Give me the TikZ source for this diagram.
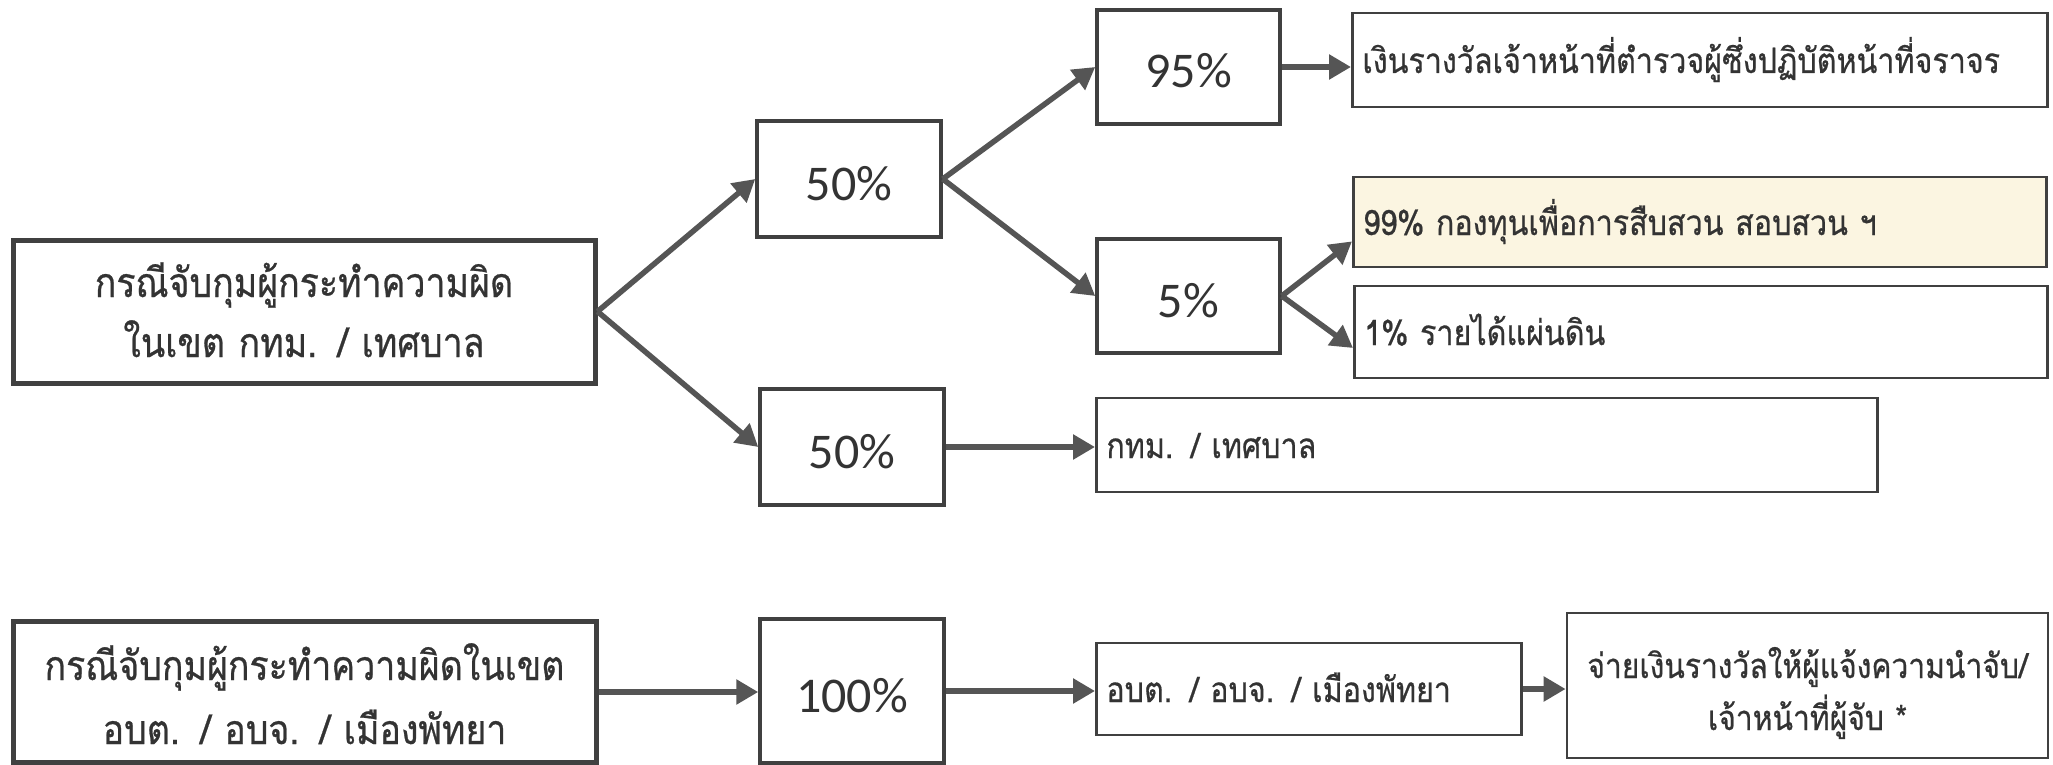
\documentclass[tikz,border=0pt]{standalone}
\usepackage{fontspec}
\newfontfamily\thaifont[Script=Thai,FakeStretch=0.87,FakeBold=0.6]{Loma}
\newfontfamily\pctfont{Carlito}
\usetikzlibrary{arrows.meta,calc}
\definecolor{boxcol}{HTML}{404040}
\definecolor{arrcol}{HTML}{555555}
\definecolor{txtcol}{HTML}{333333}
\definecolor{creamfill}{HTML}{FBF5E1}
\begin{document}
\begin{tikzpicture}[x=1pt,y=-1pt,
  pbox/.style={draw=boxcol, line width=3.5pt, text=txtcol, inner sep=0pt,
    text height=42pt, text depth=0pt,
    font=\pctfont\fontsize{50pt}{56pt}\selectfont},
  tbox/.style={draw=boxcol, line width=2.8pt, text=txtcol, inner xsep=10pt, inner ysep=0pt,
    text height=26pt, text depth=0pt,
    align=left, anchor=west, font=\thaifont\fontsize{35pt}{44pt}\selectfont},
  sbox/.style={draw=boxcol, line width=5pt, text=txtcol, inner sep=0pt, align=center,
    font=\thaifont\fontsize{41pt}{60pt}\selectfont},
  arr/.style={draw=arrcol, line width=6.5pt, -{Triangle[length=22pt,width=24pt]}},
  darr/.style={arr, line width=5.5pt}]
\useasboundingbox (0,0) rectangle (2053,765);
\fill[white] (0,0) rectangle (2053,765);
% sources
\node[sbox, minimum width=582pt, minimum height=143pt, text width=560pt,
  text height=40pt, text depth=69pt] (A) at (304,311.5)
  {กรณีจับกุมผู้กระทำความผิด\\ในเขต กทม. / เทศบาล};
\node[sbox, minimum width=583pt, minimum height=141pt, text width=560pt,
  text height=40pt, text depth=64pt,
  font=\thaifont\fontsize{41pt}{64pt}\selectfont] (B) at (304.5,692)
  {กรณีจับกุมผู้กระทำความผิดในเขต\\อบต. / อบจ. / เมืองพัทยา};
% percentage boxes
\node[pbox, minimum width=184pt, minimum height=116pt] (P50a) at (849,179) {50\%};
\node[pbox, minimum width=183pt, minimum height=114pt] (P95) at (1188.5,67) {95\%};
\node[pbox, minimum width=183pt, minimum height=114pt] (P5) at (1188.5,296) {5\%};
\node[pbox, minimum width=184pt, minimum height=116pt] (P50b) at (852,447) {50\%};
\node[pbox, minimum width=184pt, minimum height=144pt] (P100) at (852,691) {100\%};
% target boxes
\node[tbox, minimum height=94pt, text width=675pt] (T95) at (1351,60)
  {เงินรางวัลเจ้าหน้าที่ตำรวจผู้ซึ่งปฏิบัติหน้าที่จราจร};
\node[tbox, fill=creamfill, minimum height=90pt, text width=673pt] (T99) at (1352,222)
  {99\% กองทุนเพื่อการสืบสวน สอบสวน ฯ};
\node[tbox, minimum height=92pt, text width=673pt] (T1) at (1353,332)
  {1\% รายได้แผ่นดิน};
\node[tbox, minimum height=94pt, text width=761pt] (Tgt) at (1095,445)
  {กทม. / เทศบาล};
\node[tbox, minimum height=92pt, text width=405pt] (Tobt) at (1095,689)
  {อบต. / อบจ. / เมืองพัทยา};
\node[tbox, anchor=center, align=center, minimum height=145pt, text width=461pt,
  text height=40pt, text depth=55pt,
  font=\thaifont\fontsize{34.5pt}{52pt}\selectfont] (Tlast) at (1807.5,685.5)
  {จ่ายเงินรางวัลให้ผู้แจ้งความนำจับ/\\เจ้าหน้าที่ผู้จับ *};
% connectors
\draw[darr] (A.east) -- (P50a.west);
\draw[darr] (A.east) -- (P50b.west);
\draw[darr] (P50a.east) -- (P95.west);
\draw[darr] (P50a.east) -- (P5.west);
\draw[arr] (P95.east) -- (P95.east -| T95.west);
\draw[darr] (P5.east) -- ($(T99.south west)+(0,-27)$);
\draw[darr] (P5.east) -- ($(T1.west)+(0,16)$);
\draw[arr] (P50b.east) -- (P50b.east -| Tgt.west);
\draw[arr] (B.east) -- (B.east -| P100.west);
\draw[arr] (P100.east) -- (P100.east -| Tobt.west);
\draw[arr] (Tobt.east) -- (Tobt.east -| Tlast.west);
\end{tikzpicture}
\end{document}
